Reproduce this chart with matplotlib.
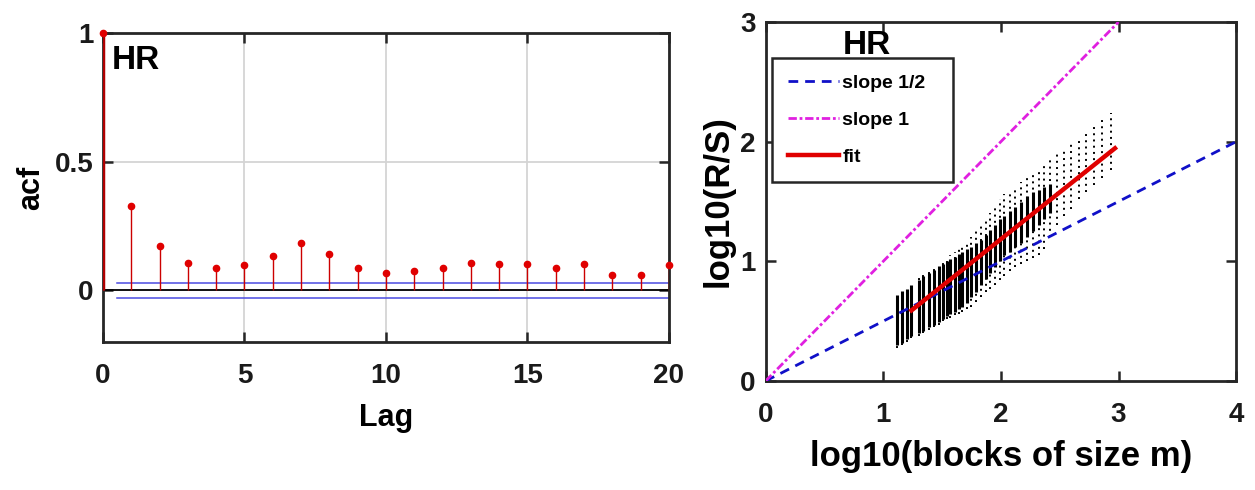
import numpy as np
import matplotlib
import matplotlib.pyplot as plt
matplotlib.use("Agg")

plt.rcParams["font.family"] = ["Liberation Sans", "DejaVu Sans"]
plt.rcParams["font.weight"] = "bold"
plt.rcParams["axes.labelweight"] = "bold"

# ACF of HR, lags 0..20
lags = np.arange(0, 21)
acf = [1.0, 0.327, 0.171, 0.105, 0.089, 0.097, 0.132, 0.183, 0.140, 0.087,
       0.066, 0.074, 0.086, 0.105, 0.101, 0.101, 0.086, 0.101, 0.062, 0.062,
       0.097]
conf_bound = 0.030

# R/S analysis: one column of points per block size (log10 m)
rs_x = [1.12, 1.16, 1.20, 1.24, 1.30, 1.34, 1.39, 1.43, 1.47, 1.51,
        1.54, 1.57, 1.61, 1.64, 1.67, 1.71, 1.75, 1.79, 1.83, 1.87,
        1.91, 1.95, 1.99, 2.03, 2.08, 2.12, 2.17, 2.22, 2.27, 2.32,
        2.37, 2.42, 2.48, 2.54, 2.60, 2.66, 2.72, 2.79, 2.86, 2.94]
rs_lo = [0.28, 0.30, 0.33, 0.36, 0.38, 0.40, 0.43, 0.45, 0.47, 0.50,
         0.52, 0.53, 0.55, 0.56, 0.58, 0.60, 0.62, 0.66, 0.70, 0.74,
         0.77, 0.80, 0.84, 0.88, 0.92, 0.95, 0.98, 1.00, 1.03, 1.05,
         1.10, 1.20, 1.30, 1.38, 1.44, 1.52, 1.58, 1.64, 1.70, 1.76]
rs_hi = [0.73, 0.76, 0.78, 0.82, 0.86, 0.90, 0.92, 0.95, 0.98, 1.00,
         1.02, 1.05, 1.08, 1.10, 1.12, 1.15, 1.20, 1.25, 1.30, 1.35,
         1.40, 1.46, 1.52, 1.56, 1.58, 1.62, 1.66, 1.70, 1.74, 1.78,
         1.82, 1.86, 1.90, 1.94, 1.98, 2.04, 2.10, 2.16, 2.20, 2.24]
# dense part of each column (nan = no dense part)
core_lo = [0.30, 0.32, 0.35, 0.38, 0.40, 0.42, 0.45, 0.47, 0.49, 0.52,
           0.54, 0.56, 0.58, 0.60, 0.62, 0.65, 0.70, 0.74, 0.80, 0.85,
           0.90, 0.95, 1.00, 1.05, 1.08, 1.12, 1.15, 1.20, 1.25, 1.30,
           1.35, 1.40] + [np.nan] * 8
core_hi = [0.72, 0.75, 0.77, 0.80, 0.84, 0.88, 0.90, 0.93, 0.96, 0.98,
           1.00, 1.02, 1.04, 1.06, 1.08, 1.10, 1.12, 1.15, 1.18, 1.22,
           1.26, 1.30, 1.35, 1.38, 1.42, 1.45, 1.50, 1.55, 1.58, 1.60,
           1.62, 1.65] + [np.nan] * 8

fit_x = [1.24, 2.97]
fit_y = [0.59, 1.945]
half_x = [0, 4]
half_y = [0, 2]
one_x = [0, 3]
one_y = [0, 3]

EDGE = "#262626"


def style_axes(ax):
    """MATLAB-like box: inward ticks on all four sides."""
    for sp in ax.spines.values():
        sp.set_linewidth(2.0)
        sp.set_color(EDGE)
    ax.tick_params(direction="in", top=True, right=True, length=7,
                   width=1.8, color=EDGE, labelsize=20)
    ax.tick_params(axis="x", pad=15)
    ax.tick_params(axis="y", pad=7)
    for lab in ax.get_xticklabels() + ax.get_yticklabels():
        lab.set_fontweight("bold")
        lab.set_color("#1a1a1a")


def plot_acf(ax):
    ax.grid(True, color="#d4d4d4", linewidth=1.3, zorder=0)
    ax.axhline(0, color="black", linewidth=1.3, zorder=2)
    ax.plot([0.5, 20], [conf_bound, conf_bound], color="#4a4ae0",
            linewidth=1.1, zorder=2)
    ax.plot([0.5, 20], [-conf_bound, -conf_bound], color="#4a4ae0",
            linewidth=1.1, zorder=2)
    ax.vlines(lags, 0, acf, color="#cc0000", linewidth=1.0, zorder=3)
    ax.vlines(lags[:1], 0, acf[:1], color="#b00000", linewidth=2.5, zorder=3)
    ax.plot(lags, acf, linestyle="None", marker="o", markersize=4.5,
            color="#e00000", zorder=4, clip_on=False)

    ax.set_xlim(0, 20)
    ax.set_ylim(-0.2, 1)
    ax.set_xticks([0, 5, 10, 15, 20])
    ax.set_yticks([0, 0.5, 1])
    ax.set_yticklabels(["0", "0.5", "1"])
    ax.set_xlabel("Lag", fontsize=22, fontweight="bold", labelpad=10)
    ax.set_ylabel("acf", fontsize=22, fontweight="bold", labelpad=6)
    ax.text(0.015, 0.962, "HR", transform=ax.transAxes, fontsize=24,
            fontweight="bold", va="top", ha="left")
    style_axes(ax)


def plot_rs(ax):
    ax.vlines(rs_x, rs_lo, rs_hi, colors="black", linewidth=1.4,
              linestyles=(0, (1, 2.2)), zorder=2)
    ax.vlines(rs_x, core_lo, core_hi, colors="black", linewidth=2.2,
              zorder=2)
    ax.plot(half_x, half_y, linestyle="--", color="#1010c8", linewidth=2.0,
            dashes=(3.5, 2.5), label="slope 1/2", zorder=3)
    ax.plot(one_x, one_y, linestyle="-.", color="#e020e0", linewidth=2.0,
            dashes=(3, 1, 1, 1), label="slope 1", zorder=3)
    ax.plot(fit_x, fit_y, color="#e00000", linewidth=3.2, label="fit",
            zorder=4)

    ax.set_xlim(0, 4)
    ax.set_ylim(0, 3)
    ax.set_xticks([0, 1, 2, 3, 4])
    ax.set_yticks([0, 1, 2, 3])
    ax.set_xlabel("log10(blocks of size m)", fontsize=25, fontweight="bold",
                  labelpad=9)
    ax.set_ylabel("log10(R/S)", fontsize=25, fontweight="bold", labelpad=4)

    leg = ax.legend(loc="upper left", bbox_to_anchor=(0.0127, 0.57, 0.386, 0.3306),
                    mode="expand", borderaxespad=0, fancybox=False,
                    edgecolor=EDGE, framealpha=1, handlelength=2.6,
                    handletextpad=0.2, labelspacing=1.0, borderpad=0.85,
                    prop={"size": 14, "weight": "bold"})
    leg.get_frame().set_linewidth(1.8)
    leg.set_zorder(5)
    ax.text(0.2155, 0.911, "HR", transform=ax.transAxes, fontsize=24,
            fontweight="bold", va="baseline", ha="center", zorder=6)
    style_axes(ax)


fig = plt.figure(figsize=(12.55, 4.9), dpi=100)
ax1 = fig.add_axes([0.082, 0.302, 0.451, 0.631])
ax2 = fig.add_axes([0.610, 0.2224, 0.375, 0.7327])

plot_acf(ax1)
plot_rs(ax2)

fig.savefig("out.png", dpi=100)
